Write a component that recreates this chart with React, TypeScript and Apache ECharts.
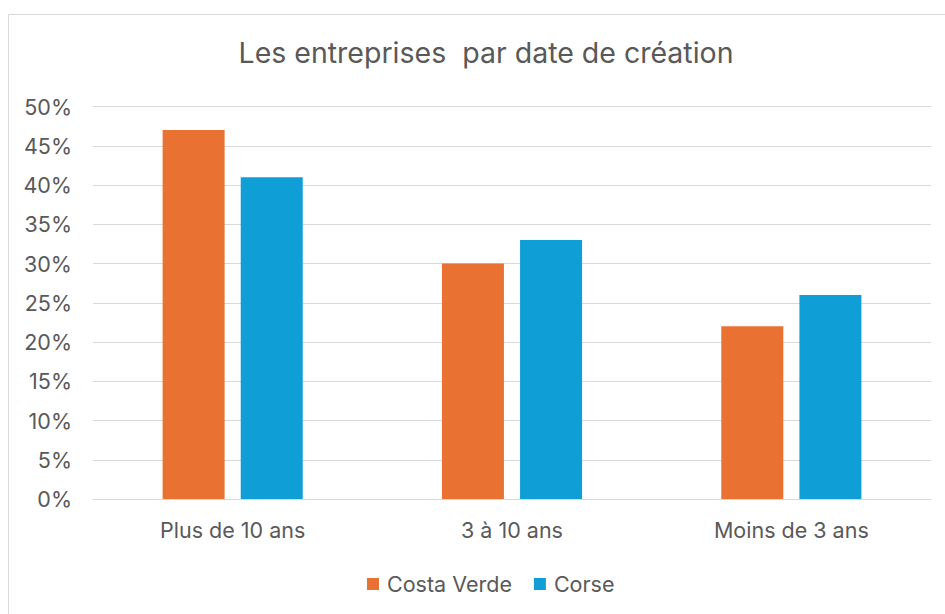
import React, { useEffect, useRef } from "react";
import * as echarts from "echarts";

const categories = ["Plus de 10 ans", "3 à 10 ans", "Moins de 3 ans"];
const costaVerde = [47, 30, 22];
const corse = [41, 33, 26];
const seriesNames = ["Costa Verde", "Corse"];
const titleText = "Les entreprises  par date de création";

const FONT = "Inter, 'Open Sans', sans-serif";
const GREY = "#595959";

export default function App() {
  const ref = useRef<HTMLDivElement>(null);
  useEffect(() => {
    if (!ref.current) return;
    const chart = echarts.init(ref.current, undefined, { renderer: "svg" });
    chart.setOption({
      animation: false,
      backgroundColor: "#ffffff",
      title: {
        text: titleText,
        left: 481,
        textAlign: "center",
        top: 33,
        textStyle: { fontFamily: FONT, fontSize: 28.5, fontWeight: "normal", color: GREY },
      },
      graphic: [
        {
          type: "rect",
          shape: { x: 8.5, y: 14.5, width: 1000, height: 700 },
          style: { fill: "none", stroke: "#D9D9D9", lineWidth: 1 },
          silent: true,
        },
      ],
      legend: {
        data: seriesNames,
        left: 362,
        top: 568,
        itemWidth: 12,
        itemHeight: 12,
        itemGap: 22,
        icon: "rect",
        textStyle: { fontFamily: FONT, fontSize: 21.5, color: GREY, padding: [0, 0, 0, 3] },
      },
      grid: { left: 93, right: 14, top: 106.5, bottom: 115, containLabel: false },
      xAxis: {
        type: "category",
        data: categories,
        axisLine: { show: true, lineStyle: { color: "#D9D9D9", width: 1 } },
        axisTick: { show: false },
        axisLabel: { fontFamily: FONT, fontSize: 21.5, color: GREY, margin: 20 },
      },
      yAxis: {
        type: "value",
        min: 0,
        max: 50,
        interval: 5,
        axisLine: { show: false },
        axisTick: { show: false },
        splitLine: { lineStyle: { color: "#D9D9D9", width: 1 } },
        axisLabel: { fontFamily: FONT, fontSize: 21.5, color: GREY, margin: 21, formatter: "{value}%" },
      },
      series: [
        {
          name: seriesNames[0],
          type: "bar",
          data: costaVerde,
          barWidth: 62,
          barGap: "26%",
          itemStyle: { color: "#E97132" },
        },
        {
          name: seriesNames[1],
          type: "bar",
          data: corse,
          barWidth: 62,
          barGap: "26%",
          itemStyle: { color: "#0F9ED5" },
        },
      ],
    });
    return () => chart.dispose();
  }, []);
  return (
    <div
      ref={ref}
      style={{ position: "absolute", left: 0, top: 0, width: 945, height: 614 }}
    />
  );
}
